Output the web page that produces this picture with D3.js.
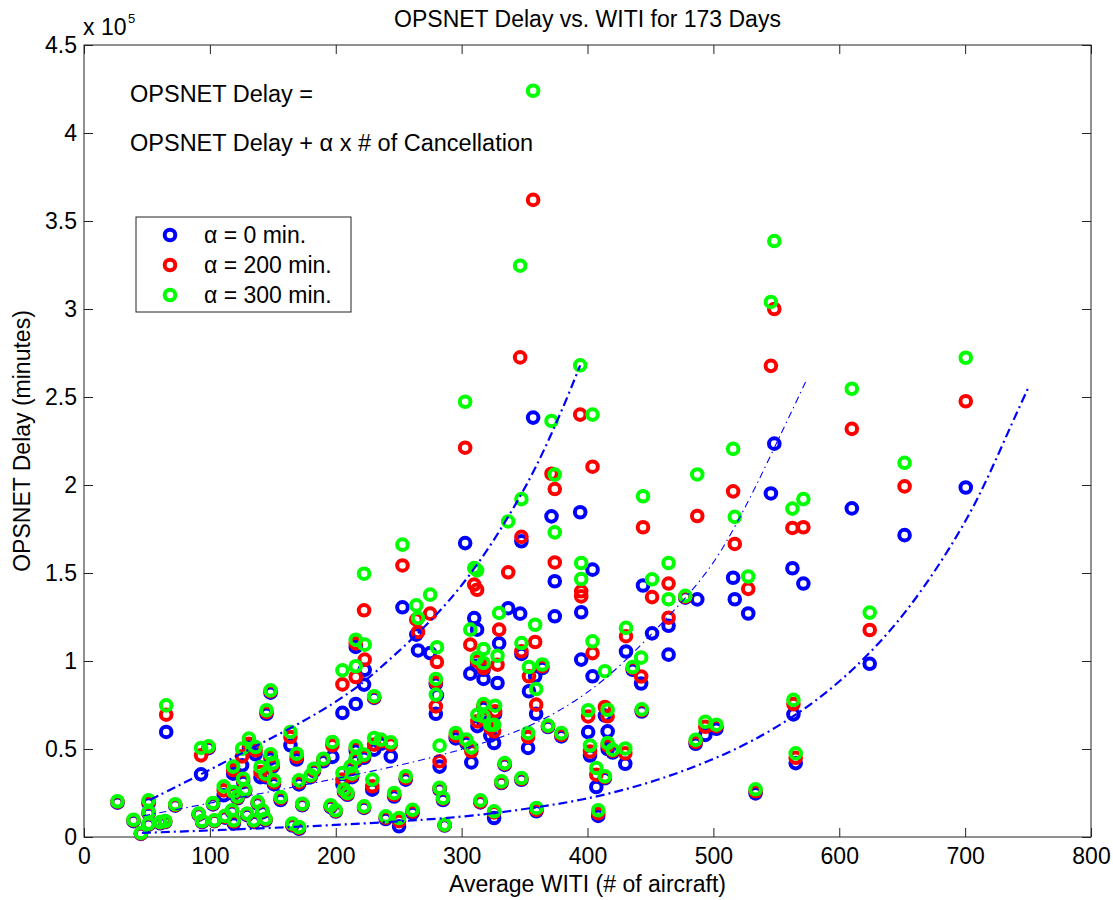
<!DOCTYPE html>
<html>
<head>
<meta charset="utf-8">
<script src="https://cdn.jsdelivr.net/npm/d3@7"></script>
<style>
  html, body { margin: 0; padding: 0; background: #fff; }
  svg { display: block; }
  text { font-family: "Liberation Sans", Arial, Helvetica, sans-serif; fill: #000; }
</style>
</head>
<body>
<div id="chart"></div>
<script>
// ---- Data (delay values in units of 10^5 minutes) ----
// Average WITI per day (# of aircraft)
const witi = [
  26.6, 39.3, 45.2, 51.3, 51.3, 51.3, 60.6, 64.5, 65.3, 72.5,
  91.1, 93.0, 99.0, 93.8, 103.6, 102.5, 111.0, 118.5, 119.0, 117.6,
  119.0, 125.6, 126.4, 129.6, 131.0, 136.3, 134.9, 140.2, 141.6, 144.2,
  145.0, 144.2, 150.9, 148.2, 148.2, 156.2, 164.0, 165.5, 169.0, 170.8,
  170.8, 173.4, 180.0, 182.7, 190.2, 196.0, 197.3, 200.0, 205.3, 206.6,
  213.0, 122.0, 128.0, 138.0, 112.0, 150.0, 205.3, 209.3, 215.9, 215.9,
  223.0, 222.5, 230.5, 215.9, 215.9, 211.9, 222.5, 230.5, 235.8, 243.7,
  222.5, 229.0, 246.4, 255.6, 282.5, 285.2, 239.7, 250.3, 261.0, 286.5,
  314.9, 334.2, 331.6, 347.5, 325.8, 359.4, 407.0, 416.0, 416.0, 420.0,
  312.5, 322.8, 317.4, 326.6, 317.4, 325.8, 352.8, 295.3, 303.7, 307.7,
  368.6, 379.2, 282.5, 280.4, 275.0, 264.0, 265.4, 279.5, 279.5, 253.0,
  302.8, 356.8, 347.5, 346.5, 371.4, 374.0, 374.0, 394.2, 404.0, 395.0,
  395.0, 404.0, 413.8, 400.5, 402.0, 413.8, 408.5, 548.4, 545.7, 610.0,
  515.7, 487.2, 444.1, 562.8, 571.5, 517.0, 527.7, 464.4, 464.4, 451.3,
  477.7, 430.6, 442.6, 435.9, 430.0, 485.9, 493.6, 502.4, 563.6, 565.4,
  533.5, 443.1, 700.5, 651.9, 624.2, 310.0, 312.3, 337.0, 329.8, 358.4,
  306.9, 312.2, 317.4, 317.4, 328.5, 353.5, 364.1, 347.5, 359.2
];
// alpha = 0 min.
const delay0 = [
  .195, .090, .018, .190, .133, .070, .078, .085, .597, .178,
  .127, .356, .505, .085, .090, .185, .237, .360, .245, .143,
  .076, .407, .312, .125, .510, .470, .085, .340, .140, .340,
  .700, .095, .300, .445, .820, .210, .521, .065, .440, .299,
  .047, .180, .340, .375, .430, .170, .455, .145, .705, .256,
  .340, .220, .260, .190, .110, .400, .300, .240, .756, 1.080,
  .950, .866, .790, .490, .430, .385, .450, .496, .530, .458,
  .165, .269, .230, .326, .269, .210, .102, .061, .136, .065,
  .197, .410, .307, .325, .108, .146, .284, .600, .500, .480,
  .630, .576, .650, .700, .733, .534, .506, .560, .534, .424,
  .625, .572, .400, .805, 1.045, 1.150, 1.060, .870, .700, 1.305,
  1.670, 2.383, 1.680, 1.269, 1.822, 1.453, 1.254, 1.845, 1.519, 1.277,
  1.008, .913, .690, .596, .463, .334, .120, 2.235, 1.952, 1.867,
  1.473, 1.350, 1.429, 1.527, 1.440, 1.351, 1.270, 1.200, 1.036, 1.157,
  1.360, 1.054, .872, .950, .416, .530, .580, .615, .697, .420,
  .248, .713, 1.986, 1.715, .984, 1.244, 1.178, 1.300, 1.100, .913,
  .928, .973, .898, .950, .875, .828, .960, 1.040, .700
];
// alpha = 200 min.
const delay200 = [
  .200, .095, .020, .200, .138, .073, .082, .088, .695, .182,
  .130, .464, .510, .088, .092, .190, .265, .380, .250, .148,
  .088, .458, .322, .130, .530, .492, .090, .369, .148, .350,
  .710, .100, .310, .460, .828, .220, .568, .070, .455, .310,
  .052, .185, .345, .380, .440, .175, .521, .148, .867, .262,
  .350, .225, .265, .195, .115, .410, .326, .245, .909, 1.100,
  1.008, 1.288, .795, .505, .440, .395, .460, .525, .545, .525,
  .170, .288, .240, .335, .275, .218, .110, .090, .145, .068,
  .200, .415, .310, .330, .140, .155, .354, .686, .520, .490,
  .657, .619, .676, .714, .745, .600, .568, .575, .545, .487,
  .630, .580, .430, .994, 1.269, 1.235, 1.165, .880, .742, 1.543,
  2.212, 3.620, 1.705, 2.725, 2.064, 1.977, 1.560, 2.400, 2.104, 1.396,
  1.367, 1.045, .739, .685, .486, .340, .135, 3.000, 2.677, 2.319,
  1.964, 1.824, 1.760, 1.756, 1.760, 1.665, 1.410, 1.440, 1.246, 1.363,
  1.365, 1.141, .912, .960, .475, .540, .626, .630, .755, .450,
  .260, .720, 2.476, 1.992, 1.176, 1.434, 1.405, 1.504, 1.178, 1.108,
  1.093, 1.000, .960, .970, .979, .913, .970, 1.055, .752
];
// alpha = 300 min.
const delay300 = [
  .203, .098, .023, .208, .142, .076, .085, .091, .748, .186,
  .133, .506, .515, .091, .095, .193, .288, .400, .256, .152,
  .095, .502, .331, .133, .559, .511, .095, .398, .152, .360,
  .720, .104, .322, .470, .833, .227, .597, .076, .473, .322,
  .057, .189, .350, .388, .445, .180, .540, .152, .947, .270,
  .360, .230, .270, .200, .120, .420, .364, .250, .970, 1.121,
  1.093, 1.496, .800, .515, .449, .402, .468, .5625, .553, .538,
  .174, .326, .250, .345, .280, .222, .117, .108, .155, .070,
  .208, .420, .316, .335, .146, .165, .392, .723, .534, .496,
  .695, .638, .686, .746, .755, .638, .591, .591, .553, .509,
  .633, .590, .519, 1.078, 1.377, 1.316, 1.244, .898, .809, 1.661,
  2.473, 4.240, 1.920, 3.246, 2.364, 2.059, 1.731, 2.680, 2.400, 1.557,
  1.466, 1.112, .942, .720, .520, .345, .152, 3.386, 3.040, 2.547,
  2.205, 2.060, 1.936, 1.866, 1.920, 1.819, 1.480, 1.557, 1.351, 1.464,
  1.370, 1.188, 1.019, .966, .503, .552, .655, .638, .779, .475,
  .271, .725, 2.723, 2.126, 1.275, 1.528, 1.515, 1.793, 1.273, 1.206,
  1.178, 1.017, 1.068, .989, 1.030, .966, .980, 1.102, .841
];

// Dash-dot fitted curves
const fit1X = [52.6, 93, 125.6, 164, 198.7, 222.5, 238.4, 257, 272.8, 288.7, 304.6, 320.5, 333.8, 347, 359, 371.4, 383, 394.2];
const fit1Y = [0.212, 0.356, 0.477, 0.616, 0.758, 0.88, 0.98, 1.10, 1.21, 1.33, 1.47, 1.63, 1.78, 1.94, 2.10, 2.29, 2.48, 2.68];
const fit2X = [47, 105.7, 150, 196, 267.5, 341.7, 381.5, 408, 430, 451.9, 479.8, 501, 517, 533, 549, 565, 574.2];
const fit2Y = [0.12, 0.20, 0.26, 0.326, 0.43, 0.58, 0.73, 0.86, 1.0, 1.16, 1.37, 1.56, 1.76, 1.98, 2.22, 2.46, 2.6];
const fit3X = [46, 103, 198.7, 296.7, 347, 394.7, 447.9, 501, 541, 575.5, 600, 624, 652.7, 681.9, 705.9, 721.8, 737.8, 751];
const fit3Y = [0.023, 0.038, 0.066, 0.108, 0.155, 0.206, 0.30, 0.44, 0.58, 0.74, 0.88, 1.04, 1.27, 1.57, 1.86, 2.10, 2.36, 2.565];

const xTicks = [0, 100, 200, 300, 400, 500, 600, 700, 800];
const yTicks = [0, 0.5, 1, 1.5, 2, 2.5, 3, 3.5, 4, 4.5];
const seriesNames = ["\u03b1 = 0 min.", "\u03b1 = 200 min.", "\u03b1 = 300 min."];
const seriesColors = ["#0000ff", "#ff0000", "#00ff00"];

const W = 1113, H = 900;
const mLeft = 84, mRight = 1091, mTop = 45, mBottom = 837;
const FS = 23;

const svg = d3.select("#chart").append("svg").attr("width", W).attr("height", H);

const x = d3.scaleLinear().domain([0, 800]).range([mLeft, mRight]);
const y = d3.scaleLinear().domain([0, 4.5]).range([mBottom, mTop]);

// Axes
const fmt = d => String(d);
function styleAxis(g) {
  g.select(".domain").remove();
  g.selectAll(".tick line").attr("stroke", "#222");
  g.selectAll(".tick text").style("font-size", FS + "px").style("font-family", '"Liberation Sans", Arial, sans-serif').attr("fill", "#000");
}
svg.append("g").attr("transform", `translate(0,${mBottom})`)
  .call(d3.axisBottom(x).tickValues(xTicks).tickFormat(fmt).tickSizeInner(-9).tickSizeOuter(0).tickPadding(11))
  .call(styleAxis);
svg.append("g").attr("transform", `translate(0,${mTop})`)
  .call(d3.axisTop(x).tickValues(xTicks).tickFormat("").tickSizeInner(-9).tickSizeOuter(0))
  .call(styleAxis);
svg.append("g").attr("transform", `translate(${mLeft},0)`)
  .call(d3.axisLeft(y).tickValues(yTicks).tickFormat(fmt).tickSizeInner(-9).tickSizeOuter(0).tickPadding(7))
  .call(styleAxis);
svg.append("g").attr("transform", `translate(${mRight},0)`)
  .call(d3.axisRight(y).tickValues(yTicks).tickFormat("").tickSizeInner(-9).tickSizeOuter(0))
  .call(styleAxis);

svg.append("rect").attr("x", mLeft).attr("y", mTop).attr("width", mRight - mLeft).attr("height", mBottom - mTop)
  .attr("fill", "none").attr("stroke", "#222").attr("stroke-width", 1);

// Points: blue first, then red, then green
const plot = svg.append("g");
const seriesData = [delay0, delay200, delay300];
seriesData.forEach((vals, si) => {
  plot.append("g").selectAll("circle")
    .data(witi.map((w, i) => [w, vals[i]]))
    .join("circle")
    .attr("cx", d => x(d[0]))
    .attr("cy", d => y(d[1]))
    .attr("r", 5.3)
    .attr("fill", "none")
    .attr("stroke", seriesColors[si])
    .attr("stroke-width", 4);
});

// Fitted dash-dot curves
const line = d3.line().x(d => x(d[0])).y(d => y(d[1])).curve(d3.curveBasis);
const fits = [
  { xs: fit1X, ys: fit1Y, w: 2.2, dash: "9,4,2,4" },
  { xs: fit2X, ys: fit2Y, w: 1.1, dash: "7,4,1.5,4" },
  { xs: fit3X, ys: fit3Y, w: 2.2, dash: "9,4,2,4" }
];
fits.forEach(f => {
  svg.append("path")
    .datum(f.xs.map((v, i) => [v, f.ys[i]]))
    .attr("d", line)
    .attr("fill", "none")
    .attr("stroke", "#0000ff")
    .attr("stroke-width", f.w)
    .attr("stroke-dasharray", f.dash);
});

// Title and labels
svg.append("text").attr("x", (mLeft + mRight) / 2).attr("y", 27).attr("text-anchor", "middle")
  .style("font-size", FS + "px").text("OPSNET Delay vs. WITI for 173 Days");
svg.append("text").attr("x", (mLeft + mRight) / 2).attr("y", 892).attr("text-anchor", "middle")
  .style("font-size", FS + "px").text("Average WITI (# of aircraft)");
svg.append("text").attr("transform", `translate(30,${(mTop + mBottom) / 2}) rotate(-90)`).attr("text-anchor", "middle")
  .style("font-size", FS + "px").text("OPSNET Delay (minutes)");

// Exponent label
svg.append("text").attr("x", 83).attr("y", 35).style("font-size", FS + "px").text("x 10");
svg.append("text").attr("x", 128).attr("y", 23).style("font-size", "13px").text("5");

// Annotation
svg.append("text").attr("x", 130).attr("y", 102).style("font-size", "23.5px").text("OPSNET Delay =");
svg.append("text").attr("x", 130).attr("y", 151).style("font-size", "23.5px")
  .text("OPSNET Delay + \u03b1 x # of Cancellation");

// Legend
const lg = svg.append("g");
lg.append("rect").attr("x", 136).attr("y", 217).attr("width", 215).attr("height", 95)
  .attr("fill", "#fff").attr("stroke", "#222").attr("stroke-width", 1);
seriesNames.forEach((name, i) => {
  const cy = 235 + i * 30;
  lg.append("circle").attr("cx", 170).attr("cy", cy).attr("r", 5.3)
    .attr("fill", "none").attr("stroke", seriesColors[i]).attr("stroke-width", 4);
  lg.append("text").attr("x", 204).attr("y", cy + 8).style("font-size", FS + "px").text(name);
});
</script>
</body>
</html>
